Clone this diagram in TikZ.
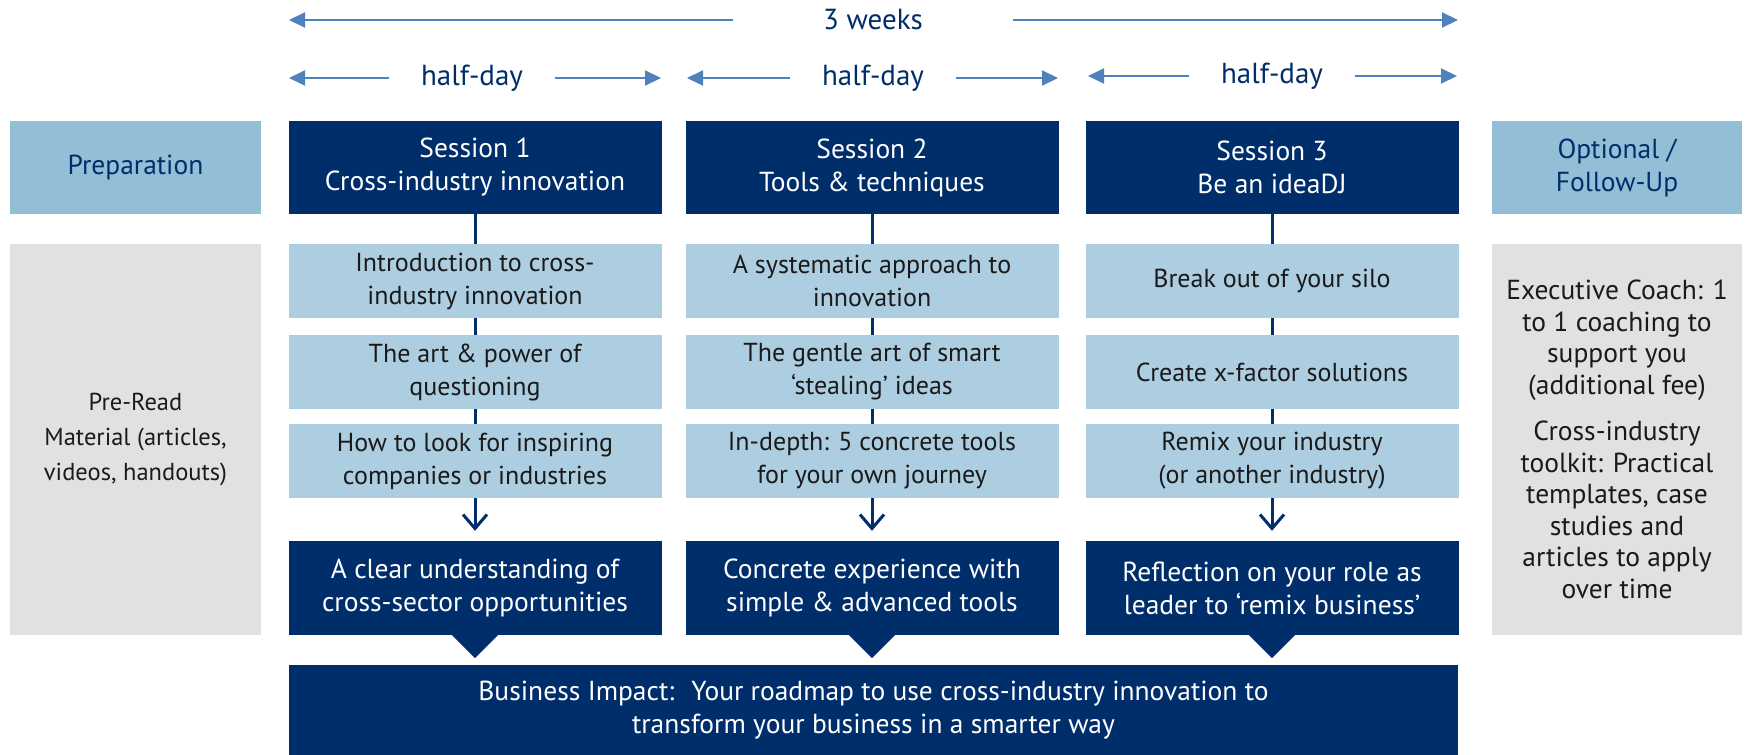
\documentclass[tikz,border=0pt]{standalone}
\usepackage{fontspec}
\setmainfont{PT Sans}
\usepackage{xcolor}
\usepackage{tikz}
\usetikzlibrary{arrows.meta}
\definecolor{navy}{HTML}{002E6B}
\definecolor{hdrblue}{HTML}{92BED6}
\definecolor{itemblue}{HTML}{ADCDE1}
\definecolor{sidegray}{HTML}{E1E1E1}
\definecolor{spanblue}{HTML}{4F81BD}
\definecolor{ink}{HTML}{1A1A1A}
\tikzset{
  txt/.style={inner sep=0pt, align=center, font=\fontsize{27.5}{33}\selectfont},
  hdr/.style={txt, fill=hdrblue, text=navy, minimum width=251pt, minimum height=93pt},
  sess/.style={txt, fill=navy, text=white, minimum width=373pt, minimum height=93pt},
  item/.style={txt, fill=itemblue, text=ink, minimum width=373pt, minimum height=74pt, font=\fontsize{26}{33}\selectfont},
  res/.style={txt, fill=navy, text=white, minimum width=373pt, minimum height=94pt},
  side/.style={txt, fill=sidegray, text=ink, minimum width=251pt, minimum height=391pt},
  spanlbl/.style={txt, text=navy, inner xsep=32pt, font=\fontsize{29}{33}\selectfont},
  spanarr/.style={draw=spanblue, line width=2pt, -{Triangle[length=16pt,width=15pt]}},
  vline/.style={draw=navy, line width=3pt},
  down/.style={draw=navy, line width=3pt, -{Straight Barb[length=14pt,width=24pt]}, shorten >=10pt},
}
\begin{document}
\begin{tikzpicture}[x=1pt, y=-1pt]
  \useasboundingbox[fill=white] (0,0) rectangle (1746,755);
  % time spans
  \node[spanlbl, inner xsep=90pt] (wk) at (873,20) {3 weeks};
  \coordinate (wkL) at (289,20); \coordinate (wkR) at (1458,20);
  \draw[spanarr] (wk.west) -- (wkL);
  \draw[spanarr] (wk.east) -- (wkR);
  \foreach \i/\x/\y/\l/\r in {1/472/78/289/661, 2/873/78/687/1058, 3/1272/76/1088/1457} {
    \node[spanlbl] (hd\i) at (\x,\y) {half-day};
    \coordinate (hd\i L) at (\l,\y); \coordinate (hd\i R) at (\r,\y);
    \draw[spanarr] (hd\i.west) -- (hd\i L);
    \draw[spanarr] (hd\i.east) -- (hd\i R);
  }
  % header row
  \node[hdr] (prep) at (135.5,167.5) {Preparation};
  \node[sess] (s1) at (475,167.5) {Session 1\\Cross-industry innovation};
  \node[sess] (s2) at (872,167.5) {Session 2\\Tools \& techniques};
  \node[sess] (s3) at (1272,167.5) {Session 3\\Be an ideaDJ};
  \node[hdr, minimum width=250pt] (opt) at (1617,167.5) {Optional /\\Follow-Up};
  % side panels
  \node[side, font=\fontsize{24.5}{35}\selectfont] (pre) at (135.5,439.5) {Pre-Read\\Material (articles,\\videos, handouts)};
  \node[side, minimum width=250pt, font=\fontsize{27.5}{31.5}\selectfont] (fol) at (1617,439.5) {Executive Coach: 1\\to 1 coaching to\\support you\\(additional fee)\\[15pt]Cross-industry\\toolkit: Practical\\templates, case\\studies and\\articles to apply\\over time};
  % session contents
  \node[item] (a1) at (475,281) {Introduction to cross-\\industry innovation};
  \node[item] (a2) at (475,372) {The art \& power of\\questioning};
  \node[item] (a3) at (475,461) {How to look for inspiring\\companies or industries};
  \node[item] (b1) at (872,281) {A systematic approach to\\innovation};
  \node[item] (b2) at (872,372) {The gentle art of smart\\‘stealing’ ideas};
  \node[item] (b3) at (872,461) {In-depth: 5 concrete tools\\for your own journey};
  \node[item] (c1) at (1272,281) {Break out of your silo};
  \node[item] (c2) at (1272,372) {Create x-factor solutions};
  \node[item] (c3) at (1272,461) {Remix your industry\\(or another industry)};
  % outcomes
  \node[res] (r1) at (475,588) {A clear understanding of\\cross-sector opportunities};
  \node[res] (r2) at (872,588) {Concrete experience with\\simple \& advanced tools};
  \node[res] (r3) at (1272,588) {Reflection on your role as\\leader to ‘remix business’};
  \node[res, minimum width=1169pt, minimum height=90pt] (impact) at (873.5,710) {Business Impact:~ Your roadmap to use cross-industry innovation to\\transform your business in a smarter way};
  % links
  \foreach \p/\s/\r in {a/s1/r1, b/s2/r2, c/s3/r3} {
    \draw[vline] (\s) -- (\p1) (\p1) -- (\p2) (\p2) -- (\p3);
    \draw[down] (\p3) -- (\r);
    \fill[navy] (\r.south) ++(-24,-1) -- ++(48,0) -- ++(-24,24) -- cycle;
  }
\end{tikzpicture}
\end{document}
